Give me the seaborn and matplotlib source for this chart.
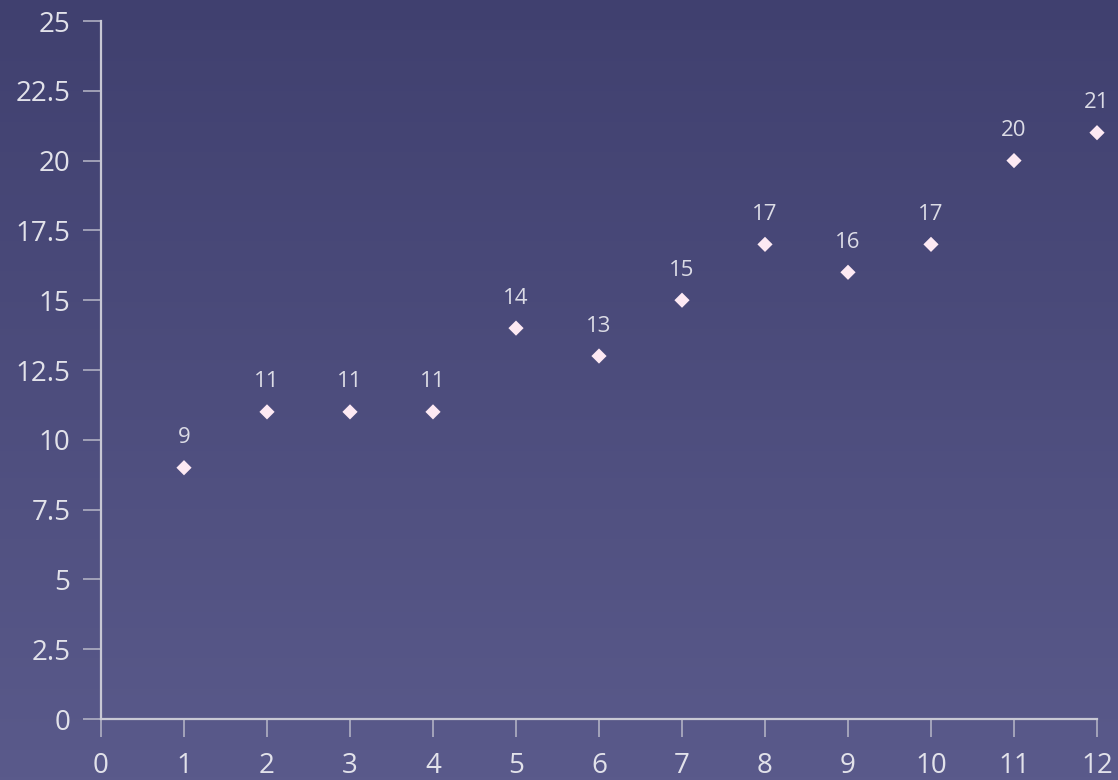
import numpy as np
import pandas as pd
import matplotlib
matplotlib.use("Agg")
import matplotlib.pyplot as plt
import seaborn as sns

x_vals = [1, 2, 3, 4, 5, 6, 7, 8, 9, 10, 11, 12]
y_vals = [9, 11, 11, 11, 14, 13, 15, 17, 16, 17, 20, 21]
x_ticks = list(range(0, 13))
y_ticks = [0, 2.5, 5, 7.5, 10, 12.5, 15, 17.5, 20, 22.5, 25]
y_tick_labels = ["0", "2.5", "5", "7.5", "10", "12.5", "15", "17.5", "20", "22.5", "25"]

sns.set_theme(style="white")
plt.rcParams['font.family'] = ['Open Sans', 'DejaVu Sans']

W, H = 1118, 780
fig = plt.figure(figsize=(W / 100, H / 100), dpi=100)

# gradient background
bg = fig.add_axes([0, 0, 1, 1], zorder=-10)
top = np.array([0x40, 0x40, 0x6f]) / 255
bot = np.array([0x5a, 0x5a, 0x8b]) / 255
t = np.linspace(0, 1, 256)[:, None, None]
grad = top * (1 - t) + bot * t
grad = np.repeat(grad, 2, axis=1)
bg.imshow(grad, aspect="auto", extent=[0, 1, 0, 1])
bg.set_axis_off()

left, right = 101 / W, 1097 / W
bottom, topp = (H - 719) / H, (H - 21) / H
ax = fig.add_axes([left, bottom, right - left, topp - bottom])
ax.patch.set_alpha(0)

df = pd.DataFrame({"x": x_vals, "y": y_vals})
sns.scatterplot(data=df, x="x", y="y", ax=ax, marker="D", s=60,
                color="#fde9f3", edgecolor="none", clip_on=False, zorder=5)

for xv, yv in zip(x_vals, y_vals):
    ax.annotate(str(yv), (xv, yv), xytext=(0, 14), textcoords="offset points",
                ha="center", va="bottom", fontsize=16, color="#dcdce6")

ax.set_xlim(0, 12)
ax.set_ylim(0, 25)
ax.set_xticks(x_ticks)
ax.set_xticklabels([str(v) for v in x_ticks])
ax.set_yticks(y_ticks)
ax.set_yticklabels(y_tick_labels)
ax.set_xlabel("")
ax.set_ylabel("")

for s in ["top", "right"]:
    ax.spines[s].set_visible(False)
for s in ["left", "bottom"]:
    ax.spines[s].set_color("#c8c8d4")
    ax.spines[s].set_linewidth(1.6)

ax.tick_params(axis="both", which="both", direction="out", length=13, width=1.1,
               color="#b8b8c8", labelcolor="#e2e2ea", labelsize=20,
               left=True, bottom=True)
ax.tick_params(axis="y", pad=9)
ax.tick_params(axis="x", pad=11)

fig.savefig("out.png", dpi=100)
